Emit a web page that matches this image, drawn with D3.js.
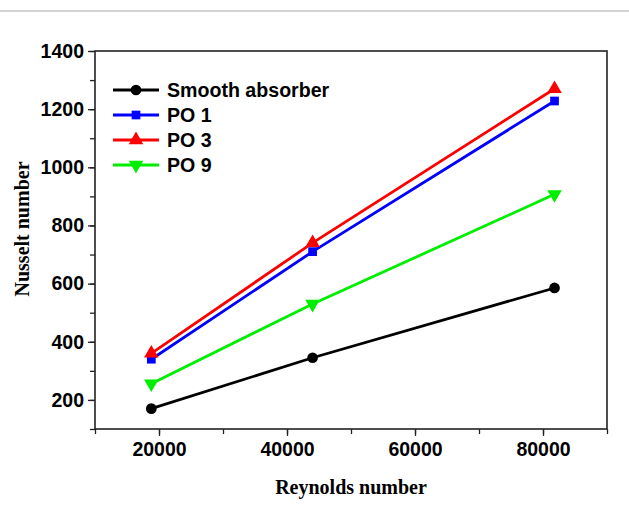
<!DOCTYPE html>
<html>
<head>
<meta charset="utf-8">
<script src="https://cdn.jsdelivr.net/npm/d3@7"></script>
<style>
  body { margin: 0; background: #fff; }
  svg { display: block; }
</style>
</head>
<body>
<div id="chart"></div>
<script>
// Reynolds number of each test run
var reynolds = [18800, 44000, 81800];

// Nusselt number per absorber
var smooth = [170, 345, 585];
var po1 = [340, 710, 1228];
var po3 = [360, 740, 1270];
var po9 = [256, 530, 907];

var seriesNames = ["Smooth absorber", "PO 1", "PO 3", "PO 9"];
var seriesColors = ["#000000", "#0000ff", "#ff0000", "#00ee00"];
var seriesShapes = ["circle", "square", "triangle", "triangleDown"];
var seriesValues = [smooth, po1, po3, po9];

var xTicks = [20000, 40000, 60000, 80000];
var yTicks = [200, 400, 600, 800, 1000, 1200, 1400];

var W = 629, H = 522;
var margin = { top: 51, right: 22, bottom: 93, left: 95 };
var width = W - margin.left - margin.right;
var height = H - margin.top - margin.bottom;

var svg = d3.select("#chart").append("svg")
  .attr("width", W)
  .attr("height", H);

// thin grey strip near the top of the picture
svg.append("line")
  .attr("x1", 0).attr("x2", W)
  .attr("y1", 11).attr("y2", 11)
  .style("stroke", "#d4d4d4")
  .style("stroke-width", 2);

var g = svg.append("g")
  .attr("transform", "translate(" + margin.left + "," + margin.top + ")");

var x = d3.scaleLinear().domain([10000, 90000]).range([0, width]);
var y = d3.scaleLinear().domain([100, 1400]).range([height, 0]);

// minor ticks
var xMinor = d3.range(10000, 90001, 10000);
var yMinor = d3.range(100, 1401, 100);

g.append("g")
  .attr("transform", "translate(0," + height + ")")
  .call(d3.axisBottom(x).tickValues(xMinor).tickSize(5).tickFormat(""))
  .call(function(a) { a.select(".domain").remove(); });

g.append("g")
  .call(d3.axisLeft(y).tickValues(yMinor).tickSize(5).tickFormat(""))
  .call(function(a) { a.select(".domain").remove(); });

// major ticks + labels
var xAxis = g.append("g")
  .attr("transform", "translate(0," + height + ")")
  .call(d3.axisBottom(x).tickValues(xTicks).tickSize(7).tickPadding(6).tickFormat(d3.format("d")));
xAxis.select(".domain").remove();

var yAxis = g.append("g")
  .call(d3.axisLeft(y).tickValues(yTicks).tickSize(7).tickPadding(4).tickFormat(d3.format("d")));
yAxis.select(".domain").remove();

g.selectAll(".tick line").style("stroke", "#222").style("stroke-width", 1.3);
g.selectAll(".tick text")
  .style("font-family", "'Liberation Sans', Arial, sans-serif")
  .style("font-weight", "bold")
  .style("font-size", "19.5px")
  .style("fill", "#000");

// frame
g.append("rect")
  .attr("width", width)
  .attr("height", height)
  .style("fill", "none")
  .style("stroke", "#222")
  .style("stroke-width", 1.6);

function symbolFor(shape) {
  if (shape === "circle") return d3.symbol().type(d3.symbolCircle).size(90);
  if (shape === "square") return d3.symbol().type(d3.symbolSquare).size(76);
  return d3.symbol().type(d3.symbolTriangle).size(92);
}

var line = d3.line()
  .x(function(d, i) { return x(reynolds[i]); })
  .y(function(d) { return y(d); });

seriesValues.forEach(function(vals, s) {
  g.append("path")
    .attr("d", line(vals))
    .style("fill", "none")
    .style("stroke", seriesColors[s])
    .style("stroke-width", 2.8);

  g.selectAll(".pt" + s)
    .data(vals)
    .enter().append("path")
    .attr("d", symbolFor(seriesShapes[s])())
    .attr("transform", function(d, i) {
      var r = seriesShapes[s] === "triangleDown" ? " rotate(180)" : "";
      return "translate(" + x(reynolds[i]) + "," + y(d) + ")" + r;
    })
    .style("fill", seriesColors[s]);
});

// legend
var legend = g.append("g").attr("transform", "translate(18,39)");
seriesNames.forEach(function(name, s) {
  var row = legend.append("g").attr("transform", "translate(0," + (s * 25) + ")");
  row.append("line")
    .attr("x1", 0).attr("x2", 46)
    .style("stroke", seriesColors[s])
    .style("stroke-width", 2.8);
  row.append("path")
    .attr("d", symbolFor(seriesShapes[s])())
    .attr("transform", "translate(23,0)" + (seriesShapes[s] === "triangleDown" ? " rotate(180)" : ""))
    .style("fill", seriesColors[s]);
  row.append("text")
    .attr("x", 54)
    .attr("dy", "0.36em")
    .style("font-family", "'Liberation Sans', Arial, sans-serif")
    .style("font-weight", "bold")
    .style("font-size", "19.6px")
    .text(name);
});

// axis titles
svg.append("text")
  .attr("x", margin.left + width / 2)
  .attr("y", 494)
  .attr("text-anchor", "middle")
  .style("font-family", "'Liberation Serif', 'Times New Roman', serif")
  .style("font-weight", "bold")
  .style("font-size", "20px")
  .text("Reynolds number");

svg.append("text")
  .attr("transform", "translate(29,229) rotate(-90)")
  .attr("text-anchor", "middle")
  .style("font-family", "'Liberation Serif', 'Times New Roman', serif")
  .style("font-weight", "bold")
  .style("font-size", "20px")
  .text("Nusselt number");
</script>
</body>
</html>
